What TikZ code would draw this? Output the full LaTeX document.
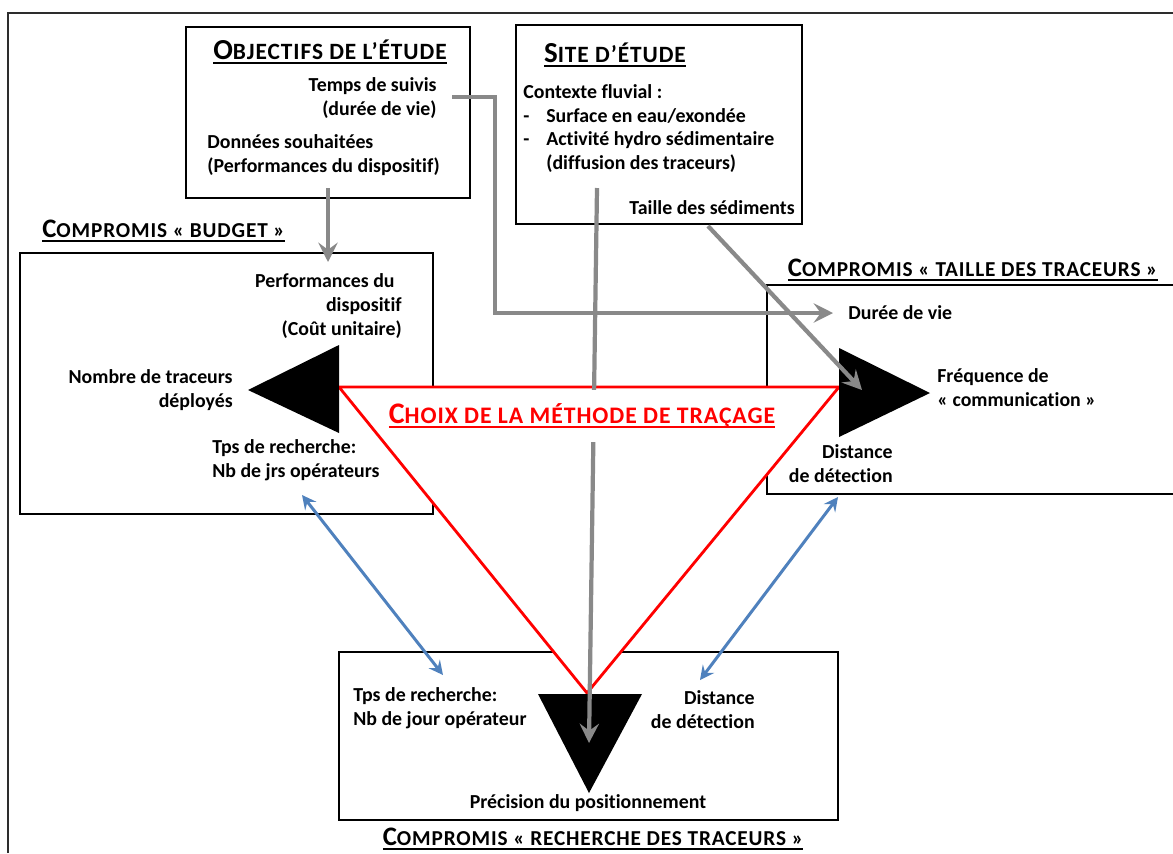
\documentclass[tikz,border=0pt]{standalone}
\usepackage{fontspec}
\setmainfont{Carlito}[Ligatures=NoCommon]
\usetikzlibrary{arrows.meta,positioning}

\definecolor{gristrait}{RGB}{137,137,137}
\definecolor{bleutrait}{RGB}{79,129,189}
\definecolor{cadregris}{RGB}{45,45,45}

\newsavebox\boitetitre
\newcommand{\souligne}[1]{\sbox\boitetitre{#1}\rlap{\rule[-2.4pt]{\wd\boitetitre}{0.9pt}}\usebox\boitetitre}
\newcommand{\capsize}[4]{\souligne{{\fontsize{#1}{18}\selectfont #3}{\fontsize{#2}{16}\selectfont\addfontfeature{LetterSpace=4}#4}}}
\newcommand{\petitcap}[2]{\capsize{15.2}{12.1}{#1}{#2}}
\newcommand{\grandcap}[2]{\capsize{16.5}{13.3}{#1}{#2}}
\newcommand{\rougecap}[2]{\capsize{17}{13.5}{#1}{#2}}

\begin{document}
\begin{tikzpicture}[x=0.02cm, y=-0.02cm,
  texte/.style={font=\bfseries\fontsize{11.3}{13.6}\selectfont, inner sep=0pt},
  titre/.style={font=\bfseries, inner sep=0pt},
  cadre/.style={draw=black, line width=1.6pt, fill=white},
  fleche grise/.style={draw=gristrait, line width=2.4pt, -{Stealth[length=11pt, width=11pt, inset=4pt]}},
  fleche bleue/.style={draw=bleutrait, line width=1.7pt, {Stealth[length=8pt, width=8pt, inset=3pt]}-{Stealth[length=8pt, width=8pt, inset=3pt]}}]

\clip (0,0) rectangle (1173,853);
\fill[white] (0,0) rectangle (1173,853);
\draw[cadregris, line width=1.1pt] (8,853) -- (8,13) -- (1173,13);

\node[cadre, minimum width=5.68cm, minimum height=3.42cm] (objectifs) at (328,112.5) {};
\node[cadre, minimum width=5.72cm, minimum height=3.98cm] (site) at (659,124.5) {};
\node[cadre, minimum width=8.26cm, minimum height=5.22cm] (budget) at (226.5,383.5) {};
\node[cadre, minimum width=8.36cm, minimum height=4.18cm] (taille) at (976,389.5) {};
\node[cadre, minimum width=9.98cm, minimum height=3.36cm] (recherche) at (588.5,736) {};

\coordinate (sommetG) at (339,387);
\coordinate (sommetD) at (839,387);
\coordinate (sommetB) at (587,693);
\draw[red, line width=1.6pt, fill=white, line join=miter] (sommetG) -- (sommetD) -- (sommetB) -- cycle;

\fill (248,390) -- (339,345) -- (339,433) -- cycle;
\fill (930,393) -- (839,348) -- (839,437) -- cycle;
\fill (538,694) -- (642,694) -- (589,793) -- cycle;

\node[titre] (titreobj) at (330,52) {\grandcap{O}{BJECTIFS DE L’ÉTUDE}};
\node[texte, anchor=east, align=right] (suivis) at (437,98) {Temps de suivis\\(durée de vie)};
\node[texte, anchor=west, align=left] (donnees) at (207,155) {Données souhaitées\\(Performances du dispositif)};

\node[titre] (titresite) at (615,55) {\grandcap{S}{ITE D’ÉTUDE}};
\node[texte, anchor=west, align=left] (contexte) at (523,128.5) {Contexte fluvial :\\\makebox[0.46cm][l]{-}Surface en eau/exondée\\\makebox[0.46cm][l]{-}Activité hydro sédimentaire\\\hspace*{0.46cm}(diffusion des traceurs)};
\node[texte, anchor=east] (sediments) at (795,208) {Taille des sédiments};

\node[titre, anchor=west] (titrebudget) at (42,231) {\petitcap{C}{OMPROMIS « BUDGET »}};
\node[texte, anchor=east, align=right] (performances) at (402,306) {Performances du\hspace*{0.14cm}\\dispositif\\(Coût unitaire)};
\node[texte, anchor=east, align=right] (nombre) at (233,390) {Nombre de traceurs\\déployés};
\node[texte, anchor=west, align=left] (tpsbudget) at (212,460) {Tps de recherche:\\Nb de jrs opérateurs};

\node[titre, anchor=east] (titretaille) at (1158,270) {\petitcap{C}{OMPROMIS « TAILLE DES TRACEURS »}};
\node[texte, anchor=west] (vie) at (848,313) {Durée de vie};
\node[texte, anchor=west, align=left] (frequence) at (937,388) {Fréquence de\\« communication »};
\node[texte, anchor=east, align=right] (distance) at (893,464) {Distance\\de détection};

\node[texte, anchor=west, align=left] (tpsrech) at (353,708) {Tps de recherche:\\Nb de jour opérateur};
\node[texte, anchor=east, align=right] (distrech) at (755,710) {Distance\\de détection};
\node[texte] (precision) at (588,803) {Précision du positionnement};
\node[titre] (titrerech) at (593,839) {\petitcap{C}{OMPROMIS « RECHERCHE DES TRACEURS »}};

\coordinate (objbas) at (328,188);
\coordinate (budgethaut) at (328,262);
\coordinate (suivisfin) at (452,97);
\coordinate (coude) at (495,97);
\coordinate (viedebut) at (833,313);
\coordinate (sitebas) at (597,188);
\coordinate (pointebas) at (589,743);
\coordinate (taillebas) at (708,226);
\coordinate (pointedroite) at (862,390);
\draw[fleche grise] (objbas) -- (budgethaut);
\draw[fleche grise] (suivisfin) -- (coude) |- (viedebut);
\draw[fleche grise] (sitebas) -- (pointebas);
\draw[fleche grise] (taillebas) -- (pointedroite);

\coordinate (bleuG1) at (302,495);
\coordinate (bleuG2) at (443,675);
\coordinate (bleuD1) at (838,497);
\coordinate (bleuD2) at (700,680);
\draw[fleche bleue] (bleuG1) -- (bleuG2);
\draw[fleche bleue] (bleuD1) -- (bleuD2);

\node[titre, text=red, fill=white, minimum height=1.04cm, inner xsep=1pt] (choix) at (582,416) {\rougecap{C}{HOIX DE LA MÉTHODE DE TRAÇAGE}};

\end{tikzpicture}
\end{document}
